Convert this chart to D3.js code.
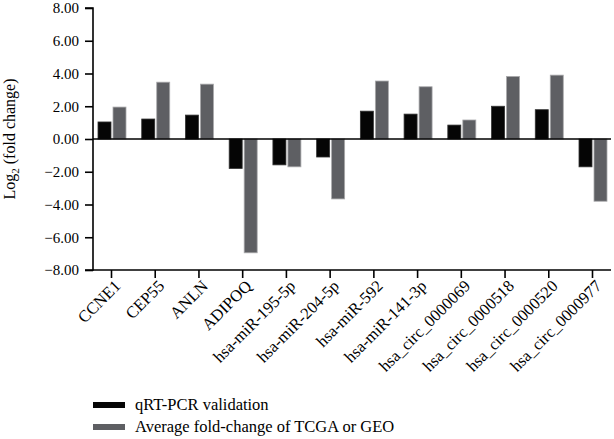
<!DOCTYPE html>
<html>
<head>
<meta charset="utf-8">
<script src="https://cdn.jsdelivr.net/npm/d3@7"></script>
<style>
  body { margin: 0; background: #fff; }
  svg text { font-family: "Liberation Serif", "DejaVu Serif", serif !important; }
</style>
</head>
<body>
<div class="demo"></div>
<script>
(function() {
    var categories = ["CCNE1", "CEP55", "ANLN", "ADIPOQ", "hsa-miR-195-5p", "hsa-miR-204-5p",
        "hsa-miR-592", "hsa-miR-141-3p", "hsa_circ_0000069", "hsa_circ_0000518",
        "hsa_circ_0000520", "hsa_circ_0000977"];
    var qrtPcr = [1.04, 1.22, 1.46, -1.80, -1.58, -1.10, 1.70, 1.52, 0.85, 2.00, 1.79, -1.70];
    var tcgaGeo = [1.95, 3.47, 3.35, -6.95, -1.70, -3.66, 3.54, 3.19, 1.16, 3.82, 3.90, -3.80];
    var yTicks = [-8, -6, -4, -2, 0, 2, 4, 6, 8];
    var seriesNames = ["qRT-PCR validation", "Average fold-change of TCGA or GEO"];
    var colors = ["#050505", "#5e5f63"];

    var width = 614,
        height = 439,
        serif = "Liberation Serif";

    var svg = d3.select(".demo").append("svg")
        .attr("width", width)
        .attr("height", height);

    var y = d3.scaleLinear().domain([-8, 8]).range([270, 8]);
    var x = d3.scalePoint().domain(categories).range([111, 592]);

    var barW = 13, gap = 2;

    // y axis
    var yAxis = svg.append("g")
        .attr("transform", "translate(93,0)")
        .call(d3.axisLeft(y).tickValues(yTicks).tickSize(8).tickPadding(6)
            .tickFormat(function(d) { return d3.format(".2f")(d).replace("-", "\u2212"); }));
    yAxis.attr("font-size", 15);
    yAxis.selectAll("text").attr("fill", "#000");
    yAxis.selectAll("line, path").attr("stroke", "#000").attr("stroke-width", 1.6);
    yAxis.select(".domain").attr("d", "M-8," + y(-8) + "H0V" + y(8) + "H-8");

    // bottom x axis
    var xAxis = svg.append("g")
        .attr("transform", "translate(0," + y(-8) + ")")
        .call(d3.axisBottom(x).tickSize(8).tickFormat(""));
    xAxis.attr("font-size", 16.5);
    xAxis.select(".domain").attr("d", "M93,0H611");
    xAxis.selectAll("line, path").attr("stroke", "#000").attr("stroke-width", 1.6);

    xAxis.selectAll(".tick").append("text")
        .attr("transform", "translate(10,17) rotate(-45)")
        .attr("text-anchor", "end")
        .attr("fill", "#000")
        .text(function(d) { return d; });

    // bars
    var series = [qrtPcr, tcgaGeo];
    series.forEach(function(vals, s) {
        svg.append("g").selectAll("rect")
            .data(vals)
            .enter().append("rect")
            .attr("x", function(d, i) {
                return s === 0 ? x(categories[i]) - barW - gap / 2 + 1 : x(categories[i]) + gap / 2 + 1; })
            .attr("y", function(d) { return y(Math.max(0, d)); })
            .attr("width", barW)
            .attr("height", function(d) { return Math.abs(y(d) - y(0)); })
            .attr("fill", colors[s])
            .attr("stroke", s === 0 ? "#333" : "#a9a9ab")
            .attr("stroke-width", 0.8);
    });

    // zero line
    svg.append("line")
        .attr("x1", 93).attr("x2", 611)
        .attr("y1", y(0)).attr("y2", y(0))
        .attr("stroke", "#000").attr("stroke-width", 1.6);

    // y label
    var yl = svg.append("text")
        .attr("transform", "translate(15," + y(0) + ") rotate(-90)")
        .attr("text-anchor", "middle")
        .style("font-family", serif)
        .attr("font-size", 16);
    yl.append("tspan").text("Log");
    yl.append("tspan").attr("dy", 4).attr("font-size", 11).text("2");
    yl.append("tspan").attr("dy", -4).text(" (fold change)");

    // legend
    var legend = svg.append("g").selectAll("g")
        .data(seriesNames)
        .enter().append("g")
        .attr("transform", function(d, i) { return "translate(93," + (405 + i * 22) + ")"; });
    legend.append("rect")
        .attr("x", 0).attr("y", -3)
        .attr("width", 32).attr("height", 6)
        .attr("fill", function(d, i) { return colors[i]; });
    legend.append("text")
        .attr("x", 42).attr("y", 5)
        .style("font-family", serif)
        .attr("font-size", 16.5)
        .text(function(d) { return d; });
})();
</script>
</body>
</html>
